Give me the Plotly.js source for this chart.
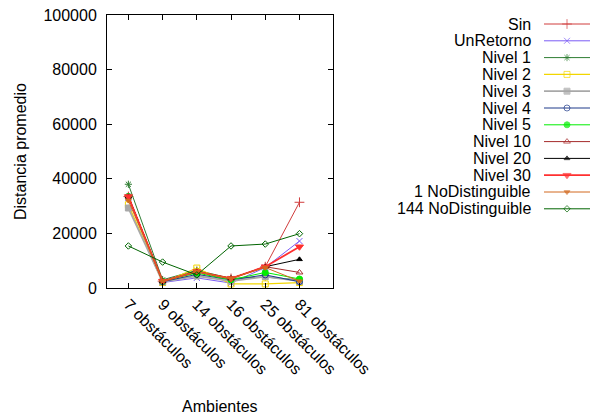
<!DOCTYPE html>
<html>
<head>
<meta charset="utf-8">
<script src="https://cdn.plot.ly/plotly-3.0.1.min.js"></script>
<style>html,body{margin:0;padding:0;background:#fff;}#chart{width:590px;height:419px;}</style>
</head>
<body>
<div id="chart"></div>
<script>
var categories = ['7 obstáculos','9 obstáculos','14 obstáculos','16 obstáculos','25 obstáculos','81 obstáculos'];
var seriesNames = ['Sin','UnRetorno','Nivel 1','Nivel 2','Nivel 3','Nivel 4','Nivel 5','Nivel 10','Nivel 20','Nivel 30','1 NoDistinguible','144 NoDistinguible'];
var sin        = [33500, 2500, 6000, 3500, 7800, 31400];
var unRetorno  = [33000, 2000, 3700, 1800, 7500, 17200];
var nivel1     = [38000, 3000, 6500, 3500, 4000, 3000];
var nivel2     = [30500, 2000, 7300, 1500, 1500, 2000];
var nivel3     = [29300, 2300, 4400, 2500, 4200, 2500];
var nivel4     = [33500, 2300, 5000, 3000, 4800, 2300];
var nivel5     = [33500, 2500, 5500, 3000, 5700, 3300];
var nivel10    = [33500, 2500, 6000, 3500, 7800, 5700];
var nivel20    = [33500, 2500, 6000, 3500, 7800, 10500];
var nivel30    = [33500, 2500, 6000, 3500, 7800, 15100];
var noDist1    = [32000, 2500, 6000, 3500, 7500, 2500];
var noDist144  = [15400, 9500, 4800, 15400, 16100, 19900];
var yTicks = [0, 20000, 40000, 60000, 80000, 100000];

var values = [sin, unRetorno, nivel1, nivel2, nivel3, nivel4, nivel5, nivel10, nivel20, nivel30, noDist1, noDist144];
var colors = ['#d03c3c','#7b5cf5','#2e7d32','#f2d600','#a8a8a8','#1f3a8a','#00ee00','#a52a2a','#000000','#ff3030','#d2691e','#006400'];
var symbols = ['cross-thin-open','x-thin-open','asterisk-open','square-open','square','circle-open','circle','triangle-up-open','triangle-up','triangle-down','triangle-down','diamond-open'];
var sizes = [7,6,6,6,6,6,6,6,5,7,5,5];
var widths = [1,1,1,1.2,1.8,1,1,1,1,1.8,1,1];

var FONT = 'Liberation Sans, Arial, sans-serif';
var plotL = 107, plotR = 333, plotT = 15, plotB = 288, W = 590;
var areaW = W - plotL, areaH = plotB - plotT;
function px(x){ return (x - plotL)/areaW; }
function py(y){ return (plotB - y)/areaH; }

var traces = [];
for (var i = 0; i < values.length; i++) {
  traces.push({
    x: categories, y: values[i], type: 'scatter', mode: 'lines+markers',
    name: seriesNames[i], showlegend: false, cliponaxis: false,
    line: {color: colors[i], width: widths[i]},
    marker: {symbol: symbols[i], size: sizes[i], color: colors[i], line: {color: colors[i], width: 1}}
  });
}
var annotations = [];
var legendTop = 24, legendStep = 16.8;
for (var j = 0; j < seriesNames.length; j++) {
  var ly = plotB - (legendTop + legendStep*j);
  traces.push({
    x: [0, 0.5, 1], y: [ly, ly, ly], xaxis: 'x2', yaxis: 'y2', type: 'scatter', mode: 'lines+markers',
    showlegend: false, hoverinfo: 'skip', cliponaxis: false,
    line: {color: colors[j], width: widths[j]},
    marker: {symbol: symbols[j], size: [0, sizes[j], 0], color: colors[j], line: {color: colors[j], width: 1}}
  });
  annotations.push({
    xref: 'paper', yref: 'paper', x: px(533), y: py(legendTop + legendStep*j),
    xanchor: 'right', yanchor: 'middle', showarrow: false, text: seriesNames[j],
    font: {family: FONT, size: 16, color: '#000'}
  });
}
annotations.push({xref:'paper', yref:'paper', x: px(220), y: py(406), xanchor:'center', yanchor:'middle', showarrow:false,
  text:'Ambientes', font:{family: FONT, size:16, color:'#000'}});
annotations.push({xref:'paper', yref:'paper', x: px(20), y: py(152), xanchor:'center', yanchor:'middle', showarrow:false,
  text:'Distancia promedio', textangle:-90, font:{family: FONT, size:16, color:'#000'}});

var layout = {
  width: 590, height: 419,
  margin: {l: plotL, r: 0, t: plotT, b: 419 - plotB, pad: 0},
  paper_bgcolor: '#fff', plot_bgcolor: '#fff',
  font: {family: FONT, size: 16, color: '#000'},
  showlegend: false,
  xaxis: {
    domain: [0, (plotR - plotL)/areaW], type: 'category', range: [-0.625, 5.98],
    tickvals: categories, ticktext: categories,
    showgrid: false, zeroline: false, showline: true, mirror: 'ticks', linecolor: '#000', linewidth: 1,
    ticks: 'inside', ticklen: 5, tickcolor: '#000', tickangle: 45,
    tickfont: {family: FONT, size: 16, color: '#000'}
  },
  yaxis: {
    range: [0, 100000], tickvals: yTicks, ticktext: yTicks.map(String),
    showgrid: false, zeroline: false, showline: true, mirror: 'ticks', linecolor: '#000', linewidth: 1,
    ticks: 'inside', ticklen: 5, tickcolor: '#000', ticklabelstandoff: 6,
    tickfont: {family: FONT, size: 16, color: '#000'}
  },
  xaxis2: {domain: [px(544), 1], range: [0, 1], visible: false, fixedrange: true, anchor: 'y2'},
  yaxis2: {domain: [0, 1], range: [0, areaH], visible: false, fixedrange: true, anchor: 'x2'},
  annotations: annotations
};
Plotly.newPlot('chart', traces, layout, {displayModeBar: false, staticPlot: true});
</script>
</body>
</html>
